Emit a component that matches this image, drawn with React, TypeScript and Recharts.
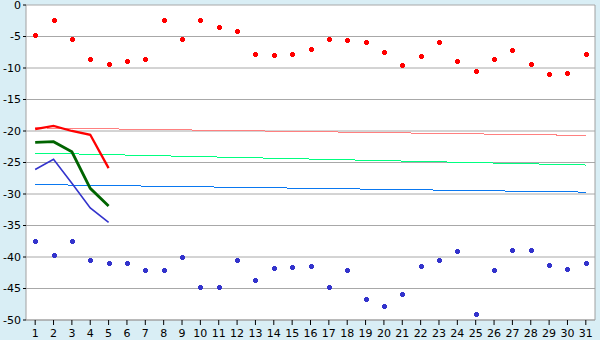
import React from "react";
import { ComposedChart, Line, XAxis, YAxis, CartesianGrid } from "recharts";

// day of month on the category axis
const days = [1, 2, 3, 4, 5, 6, 7, 8, 9, 10, 11, 12, 13, 14, 15, 16, 17, 18, 19, 20, 21, 22, 23, 24, 25, 26, 27, 28, 29, 30, 31];

// scattered daily points
const redPts = [-4.8, -2.4, -5.4, -8.6, -9.4, -8.9, -8.6, -2.4, -5.4, -2.4, -3.5, -4.2, -7.7, -8.0, -7.8, -7.0, -5.4, -5.6, -5.9, -7.5, -9.6, -8.1, -5.9, -8.9, -10.5, -8.6, -7.2, -9.4, -11.0, -10.8, -7.8];
const bluePts = [-37.5, -39.7, -37.5, -40.4, -41.0, -41.0, -42.1, -42.1, -40.0, -44.8, -44.8, -40.4, -43.7, -41.8, -41.6, -41.5, -44.8, -42.1, -46.7, -47.8, -45.9, -41.5, -40.5, -39.1, -49.1, -42.1, -38.9, -38.9, -41.3, -41.9, -41.0];

// short heavy lines over the first five days
const redLine = [-19.7, -19.2, -20.0, -20.6, -25.9];
const greenLine = [-21.8, -21.7, -23.3, -29.1, -31.9];
const blueLine = [-26.1, -24.5, -28.3, -32.2, -34.5];

// thin long lines, start (day 1) and end (day 31)
const pinkTrend = [-19.5, -20.7];
const greenTrend = [-23.5, -25.4];
const blueTrend = [-28.5, -29.7];

const yTicks = [0, -5, -10, -15, -20, -25, -30, -35, -40, -45, -50];

const last = days.length - 1;
const data = days.map((d, i) => ({
  day: d,
  red: redPts[i],
  blue: bluePts[i],
  rl: i < redLine.length ? redLine[i] : null,
  gl: i < greenLine.length ? greenLine[i] : null,
  bl: i < blueLine.length ? blueLine[i] : null,
  pt: i === 0 ? pinkTrend[0] : i === last ? pinkTrend[1] : null,
  gt: i === 0 ? greenTrend[0] : i === last ? greenTrend[1] : null,
  bt: i === 0 ? blueTrend[0] : i === last ? blueTrend[1] : null,
}));

// small plus/diamond marker like the original
const marker = (color: string) => (p: any) => {
  const { cx, cy, index } = p;
  if (cx == null || cy == null) return <g key={index} />;
  const x = Math.round(cx);
  const y = Math.round(cy);
  return (
    <g key={index} shapeRendering="crispEdges">
      <rect x={x - 1} y={y - 2} width={3} height={5} fill={color} />
      <rect x={x - 2} y={y - 1} width={5} height={3} fill={color} />
    </g>
  );
};

const tickStyle = { fontSize: 11, fill: "#000", fontFamily: "DejaVu Sans" };

export default function App() {
  return (
    <div style={{ position: "absolute", left: 0, top: 0, width: 600, height: 340, background: "#d9eef5" }}>
      <ComposedChart width={600} height={340} data={data} margin={{ top: 5, right: 4, left: 0, bottom: 0 }}>
        <CartesianGrid vertical={false} stroke="#a8a8a8" fill="#ffffff" />
        <XAxis dataKey="day" scale="band" interval={0} height={20} tickSize={5} tickMargin={4}
          tick={tickStyle} axisLine={{ stroke: "#a0a0a0" }} tickLine={{ stroke: "#000" }} />
        <YAxis type="number" domain={[-50, 0]} ticks={yTicks} interval={0} width={26} tickSize={3} tickMargin={2}
          tick={tickStyle} axisLine={{ stroke: "#a0a0a0" }} tickLine={{ stroke: "#000" }} />
        <YAxis yAxisId="r" orientation="right" type="number" domain={[0, 1]} width={1}
          tick={false} tickLine={false} axisLine={{ stroke: "#a0a0a0" }} />

        <Line dataKey="pt" stroke="#ff8080" strokeWidth={1} dot={false} connectNulls shapeRendering="crispEdges" isAnimationActive={false} />
        <Line dataKey="gt" stroke="#00ff80" strokeWidth={1} dot={false} connectNulls shapeRendering="crispEdges" isAnimationActive={false} />
        <Line dataKey="bt" stroke="#0a78f0" strokeWidth={1} dot={false} connectNulls shapeRendering="crispEdges" isAnimationActive={false} />

        <Line dataKey="rl" stroke="#ff0000" strokeWidth={2.3} dot={false} isAnimationActive={false} />
        <Line dataKey="gl" stroke="#006400" strokeWidth={2.8} dot={false} isAnimationActive={false} />
        <Line dataKey="bl" stroke="#3333cc" strokeWidth={1.6} dot={false} isAnimationActive={false} />

        <Line dataKey="red" stroke="none" dot={marker("#ff0000")} activeDot={false} isAnimationActive={false} />
        <Line dataKey="blue" stroke="none" dot={marker("#3333cc")} activeDot={false} isAnimationActive={false} />
      </ComposedChart>
    </div>
  );
}
